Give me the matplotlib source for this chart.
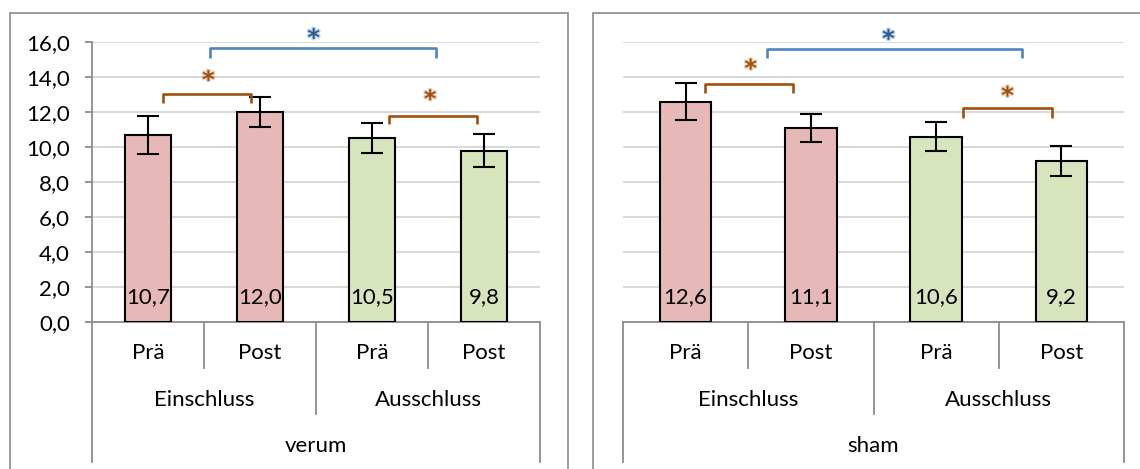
import matplotlib

matplotlib.use("Agg")
import matplotlib.patches as mpatches
import matplotlib.patheffects as pe
import matplotlib.pyplot as plt
from matplotlib.ticker import FuncFormatter

plt.rcParams["font.family"] = ["Lato", "DejaVu Sans"]

# Data: two arms (verum / sham), each with Prä/Post for Einschluss and Ausschluss
ARMS = ["verum", "sham"]
GROUPS = ["Einschluss", "Ausschluss"]
TIMES = ["Prä", "Post"]
VERUM_MEAN = [10.7, 12.0, 10.5, 9.8]
VERUM_ERR = [1.1, 0.84, 0.85, 0.93]
SHAM_MEAN = [12.6, 11.1, 10.6, 9.2]
SHAM_ERR = [1.05, 0.81, 0.83, 0.88]
Y_TICKS = [0, 2, 4, 6, 8, 10, 12, 14, 16]

# significance brackets: (x_start, x_end, y_bar, y_leg, star_x, star_y, kind)
VERUM_SIG = [
    (0.13, 0.92, 13.03, 12.5, 0.54, 13.8, "time"),
    (2.15, 2.94, 11.8, 11.3, 2.52, 12.7, "time"),
    (0.55, 2.57, 15.66, 15.1, 1.48, 16.2, "group"),
]
SHAM_SIG = [
    (0.155, 0.86, 13.6, 13.1, 0.52, 14.45, "time"),
    (2.215, 2.925, 12.23, 11.66, 2.57, 12.9, "time"),
    (0.65, 2.686, 15.6, 15.09, 1.62, 16.15, "group"),
]

PINK = "#E6B9B8"
GREEN = "#D7E4BD"
AXIS_GRAY = "#8c8c8c"
GRID_GRAY = "#d9d9d9"
ORANGE = "#a0500f"
BLUE_LINE = "#5084c4"
BLUE_STAR = "#2a5a96"
FS = 16

W, H = 1140, 469


def fx(px):
    return px / W


def fy(py):
    return 1 - py / H


def comma(v, _pos=None):
    return f"{v:.1f}".replace(".", ",")


def draw_panel(ax, arm, means, errs, sig, show_y):
    xs = list(range(len(means)))
    colors = [PINK, PINK, GREEN, GREEN]
    ax.bar(xs, means, width=0.41, color=colors, edgecolor="black",
           linewidth=1.5, zorder=3)
    ax.errorbar(xs, means, yerr=errs, fmt="none", ecolor="black",
                elinewidth=1.5, capsize=8, capthick=1.5, zorder=4)
    for x, v in zip(xs, means):
        ax.text(x, 1.45, comma(v), ha="center", va="center", fontsize=FS,
                zorder=5)

    ax.set_xlim(-0.5, 3.5)
    ax.set_ylim(0, 16)
    ax.set_yticks(Y_TICKS)
    ax.yaxis.grid(True, color=GRID_GRAY, linewidth=1.4, zorder=0)
    ax.set_axisbelow(True)
    for s in ["top", "right"]:
        ax.spines[s].set_visible(False)
    ax.spines["bottom"].set_color(AXIS_GRAY)
    ax.spines["bottom"].set_linewidth(1.3)
    ax.set_xticks([])
    if show_y:
        ax.spines["left"].set_color(AXIS_GRAY)
        ax.spines["left"].set_linewidth(1.3)
        ax.yaxis.set_major_formatter(FuncFormatter(comma))
        ax.tick_params(axis="y", length=5, width=1.3, color=AXIS_GRAY,
                       labelsize=FS, pad=11)
    else:
        ax.spines["left"].set_visible(False)
        ax.tick_params(axis="y", length=0, labelleft=False)

    # multi-level category axis below the plot
    tr = ax.get_xaxis_transform()
    line_kw = dict(color=AXIS_GRAY, linewidth=1.3, transform=tr,
                   clip_on=False)
    ax.plot([-0.5, -0.5], [0, -0.5], **line_kw)
    ax.plot([3.5, 3.5], [0, -0.5], **line_kw)
    ax.plot([1.5, 1.5], [0, -0.329], **line_kw)
    for xm in (0.5, 2.5):
        ax.plot([xm, xm], [0, -0.164], **line_kw)
    for i in range(4):
        ax.text(i, -0.111, TIMES[i % 2], ha="center", va="center",
                fontsize=FS, transform=tr)
    for g, gx in zip(GROUPS, (0.5, 2.5)):
        ax.text(gx, -0.279, g, ha="center", va="center", fontsize=FS,
                transform=tr)
    ax.text(1.5, -0.443, arm, ha="center", va="center", fontsize=FS,
            transform=tr)

    # significance brackets and stars
    for x0, x1, yb, yl, sx, sy, kind in sig:
        if kind == "group":
            lc, sc = BLUE_LINE, BLUE_STAR
        else:
            lc, sc = ORANGE, ORANGE
        ax.plot([x0, x0, x1, x1], [yl, yb, yb, yl], color=lc, linewidth=1.9,
                solid_joinstyle="round", solid_capstyle="butt",
                clip_on=False, zorder=6)
        glow = [pe.withStroke(linewidth=2, foreground=sc, alpha=0.25)]
        ax.text(sx, sy, "*", ha="center", va="center", fontsize=FS + 1,
                fontweight="bold", color=sc, family="DejaVu Sans",
                path_effects=glow, clip_on=False, zorder=6)


fig = plt.figure(figsize=(W / 100, H / 100), dpi=100)

# panel frames
for x0, x1 in ((10, 568), (593, 1150)):
    fig.patches.append(mpatches.Rectangle(
        (fx(x0), fy(480)), fx(x1 - x0), fy(13) - fy(480),
        transform=fig.transFigure, fill=False, edgecolor="#898989",
        linewidth=1.2))

ax1 = fig.add_axes([fx(92), fy(322), fx(540 - 92), fy(42) - fy(322)])
ax2 = fig.add_axes([fx(623), fy(322), fx(1124 - 623), fy(42) - fy(322)])

draw_panel(ax1, ARMS[0], VERUM_MEAN, VERUM_ERR, VERUM_SIG, True)
draw_panel(ax2, ARMS[1], SHAM_MEAN, SHAM_ERR, SHAM_SIG, False)

fig.savefig("out.png", dpi=100)
